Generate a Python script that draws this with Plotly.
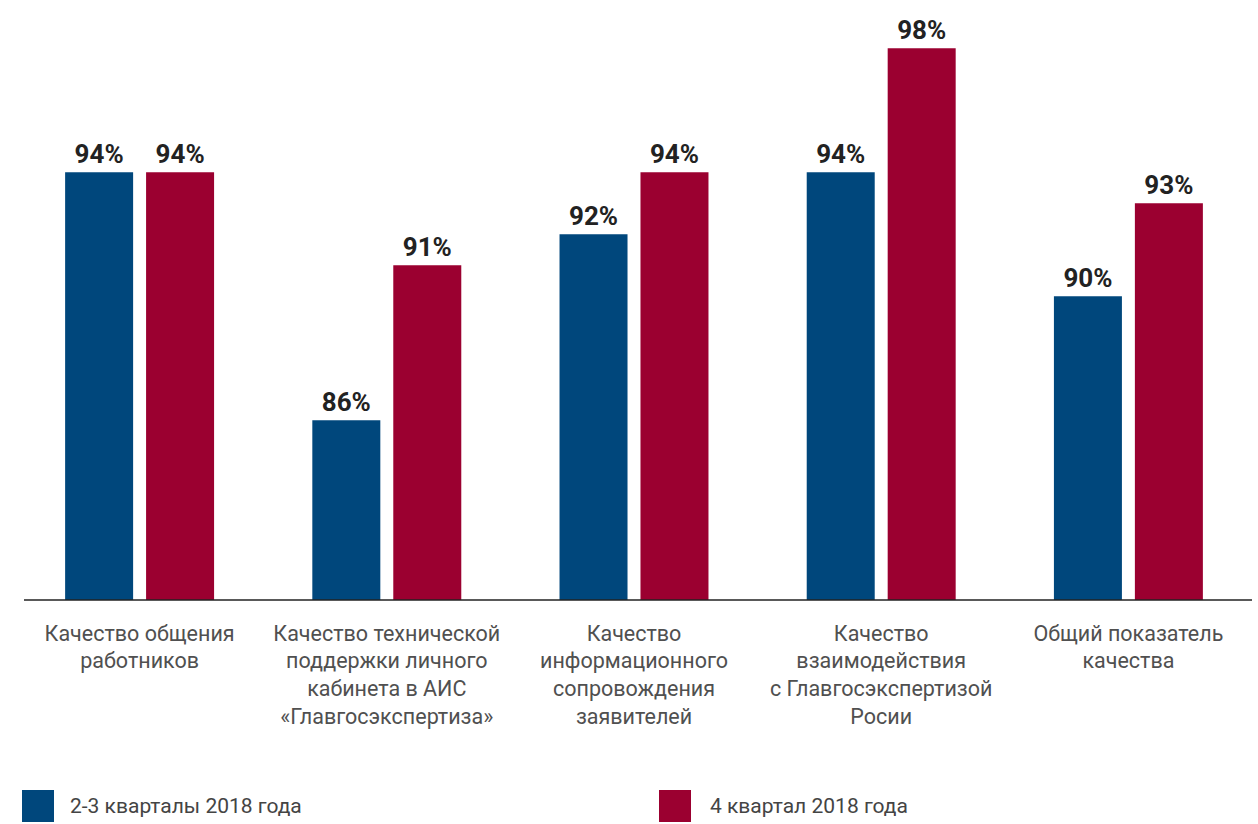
import plotly.graph_objects as go

categories = [
    "Качество общения<br>работников",
    "Качество технической<br>поддержки личного<br>кабинета в АИС<br>«Главгосэкспертиза»",
    "Качество<br>информационного<br>сопровождения<br>заявителей",
    "Качество<br>взаимодействия<br>с Главгосэкспертизой<br>Росии",
    "Общий показатель<br>качества",
]
series_names = ["2-3 кварталы 2018 года", "4 квартал 2018 года"]
values_q23 = [94, 86, 92, 94, 90]
values_q4 = [94, 91, 94, 98, 93]

BLUE = "#00477C"
RED = "#9B0030"
W, H = 1258, 824
ML, MR, MT, MB = 16, 6, 24, 224

fig = go.Figure()
for name, vals, col in [(series_names[0], values_q23, BLUE), (series_names[1], values_q4, RED)]:
    fig.add_trace(go.Bar(
        x=categories, y=vals, name=name, marker=dict(color=col, line=dict(width=0)),
        text=[f"{v}%" for v in vals], textposition="outside",
        textfont=dict(family="Roboto", size=26, color="#222222", weight="bold"),
        cliponaxis=False, showlegend=False,
    ))

fig.update_layout(
    width=W, height=H, margin=dict(l=ML, r=MR, t=MT, b=MB),
    paper_bgcolor="white", plot_bgcolor="white",
    barmode="group", bargap=0.345, bargroupgap=0.16,
    font=dict(family="Roboto", color="#555555"),
    xaxis=dict(showline=False, showgrid=False, ticks="", tickfont=dict(size=21.5, color="#505050"),
               ticklabelstandoff=18),
    yaxis=dict(range=[80.2, 98.78], visible=False, showgrid=False, zeroline=False),
    uniformtext=dict(mode=False),
)

# baseline axis line
pw = W - ML - MR
fig.add_shape(type="line", xref="paper", yref="paper", x0=(24 - ML) / pw, x1=(1252 - ML) / pw,
              y0=0, y1=0, line=dict(color="#222222", width=1.5))

# manual legend
ph = H - MT - MB
def px_x(x):
    return (x - ML) / pw
def px_y(y):
    return (H - MB - y) / ph

for (x0, tx, name, col) in [(22, 68, series_names[0], BLUE), (659, 708, series_names[1], RED)]:
    fig.add_shape(type="rect", xref="paper", yref="paper", x0=px_x(x0), x1=px_x(x0 + 32),
                  y0=px_y(790), y1=px_y(822), fillcolor=col, line=dict(width=0))
    fig.add_annotation(xref="paper", yref="paper", x=px_x(tx), y=px_y(806), text=name,
                       showarrow=False, xanchor="left", yanchor="middle",
                       font=dict(family="Roboto", size=21, color="#444444"))

fig.write_html("out.html", config={"displayModeBar": False},
               post_script="document.body.style.margin='0';document.body.style.overflow='hidden';")
